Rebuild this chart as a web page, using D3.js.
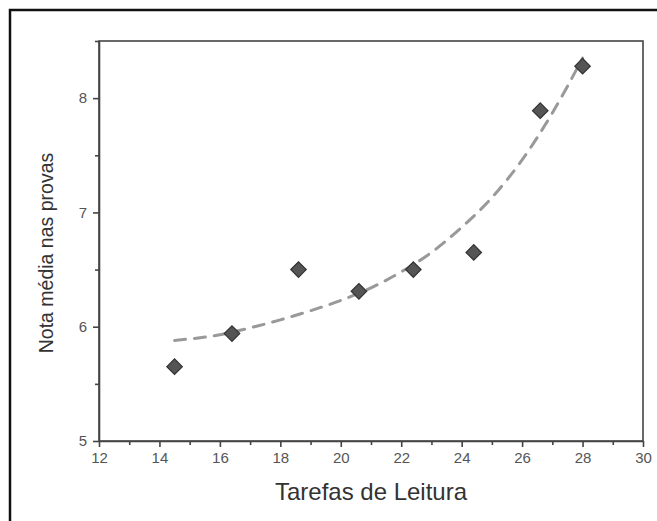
<!DOCTYPE html>
<html>
<head>
<meta charset="utf-8">
<script src="https://cdn.jsdelivr.net/npm/d3@7"></script>
<style>
  body { margin: 0; background: #fff; }
  svg { display: block; font-family: "Liberation Sans", Arial, sans-serif; }
</style>
</head>
<body>
<svg id="chart"></svg>
<script>
// reading tasks vs. average exam grade
var tarefas = [14.5, 16.4, 18.6, 20.6, 22.4, 24.4, 26.6, 28.0];
var notas = [5.65, 5.94, 6.50, 6.31, 6.50, 6.65, 7.89, 8.28];

// dashed fit curve
var fitX = [14.5, 16, 17, 18, 19, 20, 21, 22, 23, 24, 25, 26, 27, 28];
var fitY = [5.88, 5.93, 5.99, 6.06, 6.14, 6.23, 6.34, 6.48, 6.65, 6.87, 7.13, 7.46, 7.87, 8.35];

var xTicks = [12, 14, 16, 18, 20, 22, 24, 26, 28, 30];
var yTicks = [5, 6, 7, 8];

var width = 657, height = 521;
var margin = { left: 99, top: 41, right: 657 - 643, bottom: 521 - 441 };

var svg = d3.select("#chart")
    .attr("width", width)
    .attr("height", height);

// outer frame: only top and left edges are in view
svg.append("path")
    .attr("d", "M10," + height + "V10H" + width)
    .attr("fill", "none")
    .attr("stroke", "#111")
    .attr("stroke-width", 2.5);

var x = d3.scaleLinear()
    .domain([12, 30])
    .range([margin.left, width - margin.right]);

var y = d3.scaleLinear()
    .domain([5, 8.5])
    .range([height - margin.bottom, margin.top]);

var axisColor = "#444";

// minor ticks
svg.append("g")
    .attr("transform", "translate(0," + y(5) + ")")
    .call(d3.axisBottom(x).tickValues(d3.range(13, 30, 2)).tickSize(4).tickFormat(""))
    .call(g => g.select(".domain").remove());

svg.append("g")
    .attr("transform", "translate(" + x(12) + ",0)")
    .call(d3.axisLeft(y).tickValues([5.5, 6.5, 7.5, 8.5]).tickSize(4).tickFormat(""))
    .call(g => g.select(".domain").remove());

// frame top/right
svg.append("rect")
    .attr("x", x(12))
    .attr("y", y(8.5))
    .attr("width", x(30) - x(12))
    .attr("height", y(5) - y(8.5))
    .attr("fill", "none")
    .attr("stroke", axisColor)
    .attr("stroke-width", 1.6);

svg.append("g")
    .attr("transform", "translate(0," + y(5) + ")")
    .call(d3.axisBottom(x).tickValues(xTicks).tickSize(6).tickPadding(5).tickSizeOuter(0));

svg.append("g")
    .attr("transform", "translate(" + x(12) + ",0)")
    .call(d3.axisLeft(y).tickValues(yTicks).tickSize(6).tickPadding(6).tickSizeOuter(0)
      .tickFormat(d3.format("d")));

svg.selectAll(".tick line, .domain")
    .attr("stroke", axisColor)
    .attr("stroke-width", 1.6);

svg.selectAll(".tick text")
    .attr("fill", "#555")
    .attr("font-size", 15)
    .attr("font-family", "Liberation Sans, Arial, sans-serif");

// fit curve
var line = d3.line()
    .x(d => x(d[0]))
    .y(d => y(d[1]))
    .curve(d3.curveMonotoneX);

svg.append("path")
    .datum(fitX.map((v, i) => [v, fitY[i]]))
    .attr("d", line)
    .attr("fill", "none")
    .attr("stroke", "#999")
    .attr("stroke-width", 3)
    .attr("stroke-dasharray", "11,9")
    .attr("stroke-linecap", "round");

// diamonds
svg.selectAll(".ponto")
    .data(tarefas.map((v, i) => [v, notas[i]]))
  .enter()
  .append("path")
    .classed("ponto", true)
    .attr("d", d3.symbol().type(d3.symbolSquare).size(120))
    .attr("transform", d => "translate(" + x(d[0]) + "," + y(d[1]) + ") rotate(45)")
    .attr("fill", "#555")
    .attr("stroke", "#333")
    .attr("stroke-width", 1.2);

// axis titles
svg.append("text")
    .attr("x", (x(12) + x(30)) / 2)
    .attr("y", 500)
    .attr("text-anchor", "middle")
    .attr("font-size", 24)
    .attr("fill", "#333")
    .text("Tarefas de Leitura");

svg.append("text")
    .attr("transform", "translate(53,253) rotate(-90)")
    .attr("text-anchor", "middle")
    .attr("font-size", 19.5)
    .attr("fill", "#333")
    .text("Nota média nas provas");
</script>
</body>
</html>
